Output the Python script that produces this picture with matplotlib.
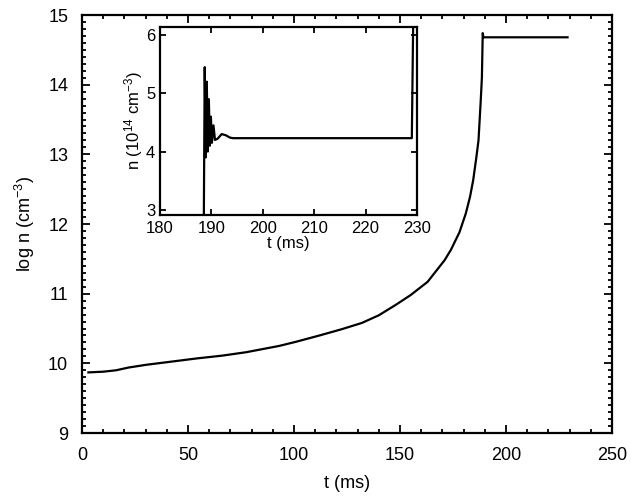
import numpy as np
import matplotlib
matplotlib.use("Agg")
import matplotlib.pyplot as plt
from matplotlib.ticker import MultipleLocator

plt.rcParams['font.family'] = ['Liberation Sans', 'DejaVu Sans']
plt.rcParams['font.size'] = 13
plt.rcParams['mathtext.default'] = 'regular'

# log density vs time
t_main = [3, 10, 16, 22, 30.5, 41, 54, 66, 77.5, 93, 101, 112, 122.5, 132, 140,
          148, 155, 163, 171, 174, 178, 181, 183, 184.5, 186, 187, 188, 188.6,
          189, 189.3, 200, 210, 220, 229]
n_main = [9.87, 9.88, 9.90, 9.94, 9.98, 10.02, 10.07, 10.11, 10.16, 10.25, 10.31,
          10.40, 10.49, 10.58, 10.69, 10.84, 10.98, 11.17, 11.48, 11.63, 11.88,
          12.15, 12.39, 12.63, 12.96, 13.2, 13.74, 14.1, 14.74, 14.68, 14.68,
          14.68, 14.68, 14.68]

# zoom on the jump, n in units of 1e14 cm^-3
t_ins = [188.5, 188.7, 188.9, 189.1, 189.3, 189.5, 189.7, 189.9, 190.1, 190.4,
         190.7, 191.2, 192.0, 192.8, 193.6, 194.2, 200, 210, 220, 229.0, 229.3]
n_ins = [2.5, 5.45, 3.9, 5.2, 4.0, 4.9, 4.1, 4.6, 4.15, 4.45, 4.2, 4.22, 4.3,
         4.28, 4.24, 4.23, 4.23, 4.23, 4.23, 4.23, 6.5]

fig = plt.figure(figsize=(6.31, 5.0), dpi=100)
ax = fig.add_axes([0.13, 0.134, 0.84, 0.836])
ax.plot(t_main, n_main, color='black', lw=1.6)
ax.set_xlim(0, 250)
ax.set_ylim(9, 15)
ax.xaxis.set_major_locator(MultipleLocator(50))
ax.xaxis.set_minor_locator(MultipleLocator(10))
ax.yaxis.set_major_locator(MultipleLocator(1))
ax.yaxis.set_minor_locator(MultipleLocator(0.1))
ax.tick_params(which='both', direction='in', top=True, right=True, width=1.3)
ax.tick_params(which='major', length=6, pad=10)
ax.tick_params(which='minor', length=3)
for s in ax.spines.values():
    s.set_linewidth(1.6)
ax.set_xlabel('t (ms)', labelpad=8)
ax.set_ylabel('log n (cm$^{-3}$)', labelpad=8)

axin = fig.add_axes([0.2536, 0.57, 0.4072, 0.376])
axin.plot(t_ins, n_ins, color='black', lw=1.6)
axin.set_xlim(180, 230)
axin.set_ylim(2.91, 6.14)
axin.xaxis.set_major_locator(MultipleLocator(10))
axin.yaxis.set_major_locator(MultipleLocator(1))
axin.tick_params(direction='in', top=True, right=True, length=4, width=1.3,
                 labelsize=12)
axin.tick_params(axis='x', pad=4)
for s in axin.spines.values():
    s.set_linewidth(1.6)
axin.set_xlabel('t (ms)', labelpad=0, fontsize=12)
axin.set_ylabel('n (10$^{14}$ cm$^{-3}$)', labelpad=1, fontsize=12)

fig.savefig('out.png', dpi=100)
